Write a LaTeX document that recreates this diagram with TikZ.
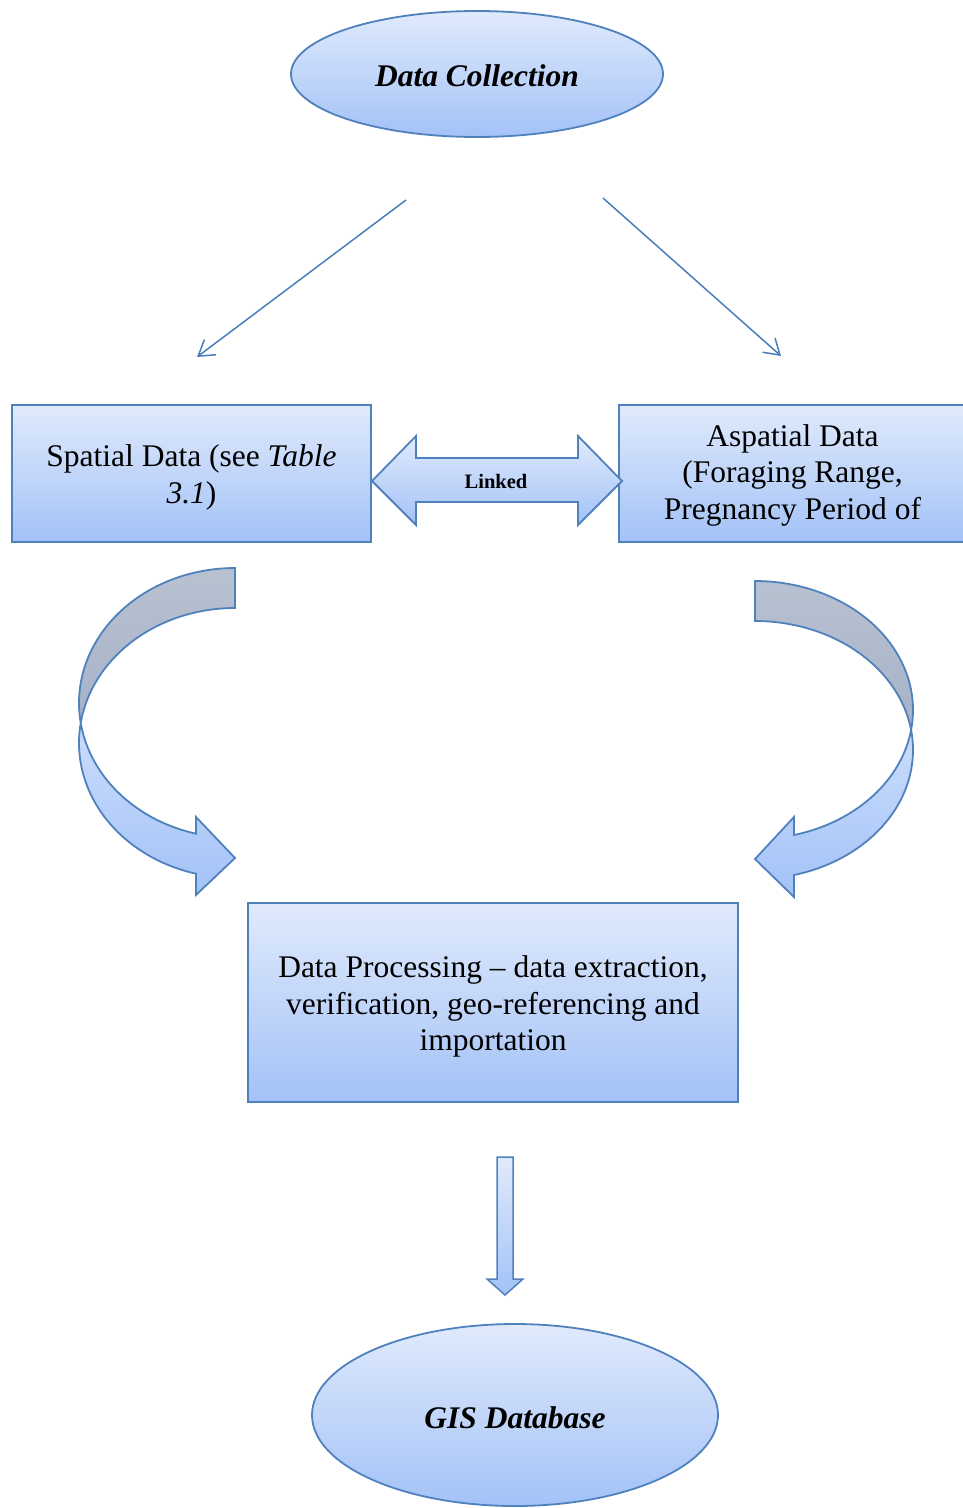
\documentclass[tikz,border=0pt]{standalone}
\usepackage{fontspec}
\setmainfont{Liberation Serif}
\usetikzlibrary{arrows.meta,shapes.geometric}
\definecolor{bord}{RGB}{79,129,189}
\definecolor{ftop}{RGB}{224,234,252}
\definecolor{fbot}{RGB}{163,194,247}
\definecolor{gtop}{RGB}{184,193,208}
\definecolor{gbot}{RGB}{166,178,200}
\definecolor{ctop}{RGB}{204,221,251}
\definecolor{lin}{RGB}{74,126,187}
\tikzset{
  bluefill/.style={draw=bord, line width=1.8pt, top color=ftop, bottom color=fbot},
  bigtext/.style={font=\fontsize{31.5}{36.5}\selectfont, align=center, inner sep=0pt},
  oval/.style={ellipse, bluefill, inner sep=0pt},
  procbox/.style={rectangle, bluefill, inner sep=0pt},
  thinarrow/.style={draw=lin, line width=1.5pt, -{Straight Barb[length=15pt,width=19pt,line width=1.5pt]}},
  backband/.style={draw=bord, line width=1.8pt, top color=gtop, bottom color=gbot},
  frontband/.style={draw=bord, line width=1.8pt, top color=ctop, bottom color=fbot},
}
\begin{document}
\begin{tikzpicture}[x=1pt,y=-1pt]
\useasboundingbox (0,0) rectangle (963,1508);

% top ellipse
\node[oval, minimum width=372pt, minimum height=126pt] (collect) at (477,74) {};
\node[bigtext] (collecttext) at ([yshift=-2pt]collect.center) {\textbf{\textit{Data Collection}}};

% thin arrows
\coordinate (a1s) at (406,200);
\coordinate (a1e) at (197,357);
\coordinate (a2s) at (603,198);
\coordinate (a2e) at (781,356);
\draw[thinarrow] (a1s) -- (a1e);
\draw[thinarrow] (a2s) -- (a2e);

% boxes
\node[procbox, minimum width=359pt, minimum height=137pt] (spatial) at (191.5,473.5) {};
\node[bigtext] (spatialtext) at ([yshift=-4pt]spatial.center) {Spatial Data (see \textit{Table}\\\textit{3.1})};
\node[procbox, minimum width=347pt, minimum height=137pt] (aspatial) at (792.5,473.5) {};
\node[bigtext] (aspatialtext) at ([yshift=-1.5pt]aspatial.center) {Aspatial Data\\(Foraging Range,\\Pregnancy Period of};

% double arrow
\path[bluefill] (372,481) -- (416,436) -- (416,458) -- (578,458) -- (578,436) -- (622,481)
  -- (578,525) -- (578,502) -- (416,502) -- (416,525) -- cycle;
\node[font=\fontsize{20.5}{24}\selectfont\bfseries] (linked) at (496,481) {Linked};

% left curved arrow
\path[backband] plot[domain=90:188.5, samples=60, variable=\t] ({235+156*cos(\t)},{703-135*sin(\t)})
  -- plot[domain=171.5:90, samples=60, variable=\t] ({235+156*cos(\t)},{743-135*sin(\t)}) -- cycle;
\path[frontband] plot[domain=171.5:255.5, samples=60, variable=\t] ({235+156*cos(\t)},{743-135*sin(\t)})
  -- (196,895) -- (235,858) -- (196,817)
  -- plot[domain=255.5:188.5, samples=60, variable=\t] ({235+156*cos(\t)},{703-135*sin(\t)}) -- cycle;

% right curved arrow
\path[backband] plot[domain=90:-8.92, samples=60, variable=\t] ({755+158*cos(\t)},{710-129*sin(\t)})
  -- plot[domain=8.92:90, samples=60, variable=\t] ({755+158*cos(\t)},{750-129*sin(\t)}) -- cycle;
\path[frontband] plot[domain=8.92:-75.7, samples=60, variable=\t] ({755+158*cos(\t)},{750-129*sin(\t)})
  -- (794,897) -- (755,859) -- (794,817)
  -- plot[domain=-75.7:-8.92, samples=60, variable=\t] ({755+158*cos(\t)},{710-129*sin(\t)}) -- cycle;

% processing box
\node[procbox, minimum width=490pt, minimum height=199pt] (process) at (493,1002.5) {};
\node[bigtext] (processtext) at ([yshift=-4pt]process.center)
  {Data Processing -- data extraction,\\verification, geo-referencing and\\importation};

% down block arrow
\path[bluefill, line width=1.5pt] (497,1157) -- (513,1157) -- (513,1279) -- (523,1279) -- (505,1295)
  -- (487,1279) -- (497,1279) -- cycle;

% bottom ellipse
\node[oval, minimum width=406pt, minimum height=182pt] (gis) at (515,1415) {};
\node[bigtext] (gistext) at ([yshift=-3pt]gis.center) {\textbf{\textit{GIS Database}}};
\end{tikzpicture}
\end{document}
